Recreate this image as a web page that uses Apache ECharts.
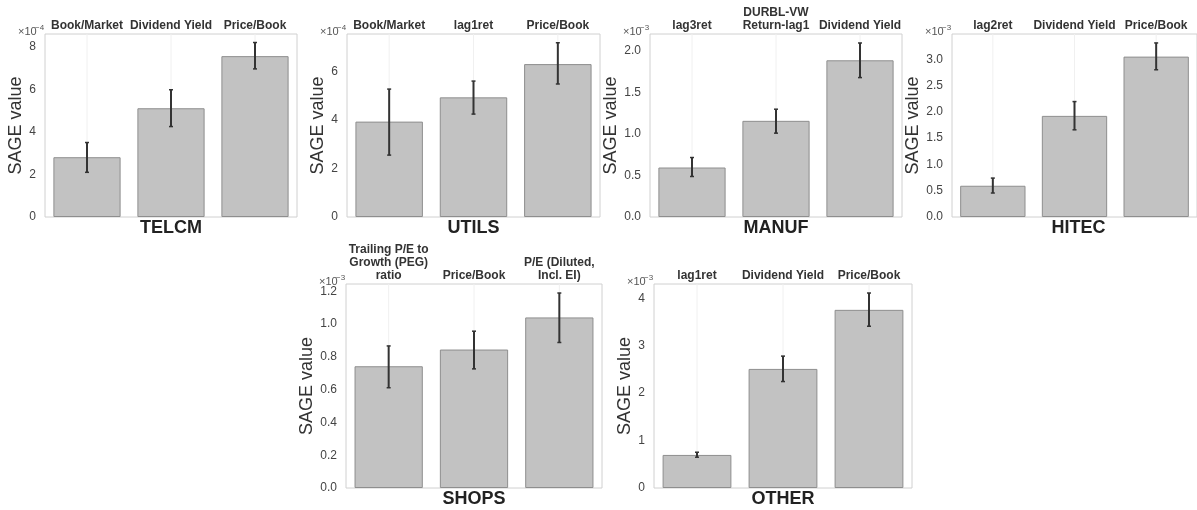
<!DOCTYPE html>
<html>
<head>
<meta charset="utf-8">
<script src="https://cdn.jsdelivr.net/npm/echarts@6/dist/echarts.min.js"></script>
<style>
html,body{margin:0;padding:0;background:#fff;}
#chart{width:1197px;height:510px;}
</style>
</head>
<body>
<div id="chart"></div>
<script>
// ---- data (values in the units shown on each axis, i.e. times 10^exponent) ----
const panelNames = ['TELCM', 'UTILS', 'MANUF', 'HITEC', 'SHOPS', 'OTHER'];
const panelExponents = [-4, -4, -3, -3, -3, -3];

const telcmCats = ['Book/Market', 'Dividend Yield', 'Price/Book'];
const telcmVals = [2.81, 5.11, 7.56];
const telcmLow  = [2.10, 4.25, 6.96];
const telcmHigh = [3.50, 5.98, 8.20];

const utilsCats = ['Book/Market', 'lag1ret', 'Price/Book'];
const utilsVals = [3.93, 4.93, 6.30];
const utilsLow  = [2.55, 4.24, 5.48];
const utilsHigh = [5.27, 5.60, 7.18];

const manufCats = ['lag3ret', 'DURBL-VW\nReturn-lag1', 'Dividend Yield'];
const manufVals = [0.595, 1.156, 1.884];
const manufLow  = [0.487, 1.008, 1.676];
const manufHigh = [0.715, 1.296, 2.092];

const hitecCats = ['lag2ret', 'Dividend Yield', 'Price/Book'];
const hitecVals = [0.594, 1.923, 3.05];
const hitecLow  = [0.456, 1.658, 2.80];
const hitecHigh = [0.740, 2.195, 3.31];

const shopsCats = ['Trailing P/E to\nGrowth (PEG)\nratio', 'Price/Book', 'P/E (Diluted,\nIncl. EI)'];
const shopsVals = [0.743, 0.845, 1.041];
const shopsLow  = [0.612, 0.727, 0.888];
const shopsHigh = [0.867, 0.957, 1.190];

const otherCats = ['lag1ret', 'Dividend Yield', 'Price/Book'];
const otherVals = [0.697, 2.51, 3.755];
const otherLow  = [0.649, 2.244, 3.41];
const otherHigh = [0.754, 2.78, 4.11];

// ---- axis settings ----
const yMax      = [8.6, 7.54, 2.2, 3.48, 1.245, 4.30];
const yInterval = [2, 2, 0.5, 0.5, 0.2, 1];
const yDecimals = [0, 0, 1, 1, 1, 0];

// ---- layout ----
const grids = [
  {left: 45,  top: 34,  width: 252, height: 183},
  {left: 347, top: 34,  width: 253, height: 183},
  {left: 650, top: 34,  width: 252, height: 183},
  {left: 952, top: 34,  width: 253, height: 183},
  {left: 346, top: 284, width: 256, height: 204},
  {left: 654, top: 284, width: 258, height: 204}
];
const nameGaps = [19, 19, 29, 28, 27, 17];

const cats  = [telcmCats, utilsCats, manufCats, hitecCats, shopsCats, otherCats];
const vals  = [telcmVals, utilsVals, manufVals, hitecVals, shopsVals, otherVals];
const lows  = [telcmLow, utilsLow, manufLow, hitecLow, shopsLow, otherLow];
const highs = [telcmHigh, utilsHigh, manufHigh, hitecHigh, shopsHigh, otherHigh];

const FONT = 'Liberation Sans, Arial, sans-serif';
const chart = echarts.init(document.getElementById('chart'), null, {renderer: 'canvas'});

const option = {
  backgroundColor: '#ffffff',
  animation: false,
  grid: [], xAxis: [], yAxis: [], series: [], graphic: []
};

grids.forEach((g, i) => {
  option.grid.push(Object.assign({
    show: true, borderColor: '#d0d0d0', borderWidth: 1, backgroundColor: 'transparent', containLabel: false
  }, g));
  option.xAxis.push({
    type: 'category', gridIndex: i, position: 'top', data: cats[i],
    axisLine: {show: false}, axisTick: {show: false}, splitLine: {show: false},
    axisLabel: {
      interval: 0, margin: 2, fontFamily: FONT, fontWeight: 'bold', fontSize: 12,
      color: '#333', lineHeight: 13
    }
  });
  option.yAxis.push({
    type: 'value', gridIndex: i, min: 0, max: yMax[i], interval: yInterval[i],
    name: 'SAGE value', nameLocation: 'middle', nameGap: nameGaps[i],
    nameTextStyle: {fontFamily: FONT, fontSize: 18, color: '#333'},
    axisLine: {show: false}, axisTick: {show: false}, splitLine: {show: false},
    axisLabel: {
      margin: 9, fontFamily: FONT, fontSize: 12, color: '#444', showMaxLabel: true,
      formatter: (v) => (v > yMax[i] - 1e-9 && Math.abs(v / yInterval[i] - Math.round(v / yInterval[i])) > 1e-6) ? '' : v.toFixed(yDecimals[i])
    }
  });
  // faint vertical grid lines at category centres
  option.series.push({
    type: 'custom', xAxisIndex: i, yAxisIndex: i, z: 1, silent: true,
    data: cats[i].map((c, k) => [k]),
    renderItem: (params, api) => {
      const cs = params.coordSys;
      const x = api.coord([api.value(0), 0])[0];
      return {type: 'line', shape: {x1: x, y1: cs.y, x2: x, y2: cs.y + cs.height},
              style: {stroke: '#f0f0f0', lineWidth: 1}};
    }
  });
  option.series.push({
    type: 'bar', xAxisIndex: i, yAxisIndex: i, z: 2, barWidth: '80%',
    data: vals[i],
    itemStyle: {color: '#c2c2c2', borderColor: '#8e8e8e', borderWidth: 1}
  });
  option.series.push({
    type: 'custom', xAxisIndex: i, yAxisIndex: i, z: 3, silent: true,
    data: vals[i].map((v, k) => [k, lows[i][k], highs[i][k]]),
    renderItem: (params, api) => {
      const lo = api.coord([api.value(0), api.value(1)]);
      const hi = api.coord([api.value(0), api.value(2)]);
      const cw = 2;
      return {type: 'group', children: [
        {type: 'line', shape: {x1: lo[0], y1: lo[1], x2: hi[0], y2: hi[1]}, style: {stroke: '#333', lineWidth: 2}},
        {type: 'line', shape: {x1: lo[0] - cw, y1: lo[1], x2: lo[0] + cw, y2: lo[1]}, style: {stroke: '#333', lineWidth: 1.5}},
        {type: 'line', shape: {x1: hi[0] - cw, y1: hi[1], x2: hi[0] + cw, y2: hi[1]}, style: {stroke: '#333', lineWidth: 1.5}}
      ]};
    }
  });
  // exponent label
  const ex = String(panelExponents[i]).replace('-', '\u2212');
  option.graphic.push({
    type: 'text', left: g.left - 27, top: g.top - 8,
    style: {text: '\u00d710', fontFamily: FONT, fontSize: 11, fill: '#555'}
  });
  option.graphic.push({
    type: 'text', left: g.left - 10, top: g.top - 10,
    style: {text: ex, fontFamily: FONT, fontSize: 8, fill: '#555'}
  });
  // panel title
  option.graphic.push({
    type: 'text', x: g.left + g.width / 2, y: g.top + g.height + 11,
    style: {text: panelNames[i], fontFamily: FONT, fontSize: 18, fontWeight: 'bold', fill: '#222',
            textAlign: 'center', textVerticalAlign: 'middle'}
  });
});

chart.setOption(option);
</script>
</body>
</html>
